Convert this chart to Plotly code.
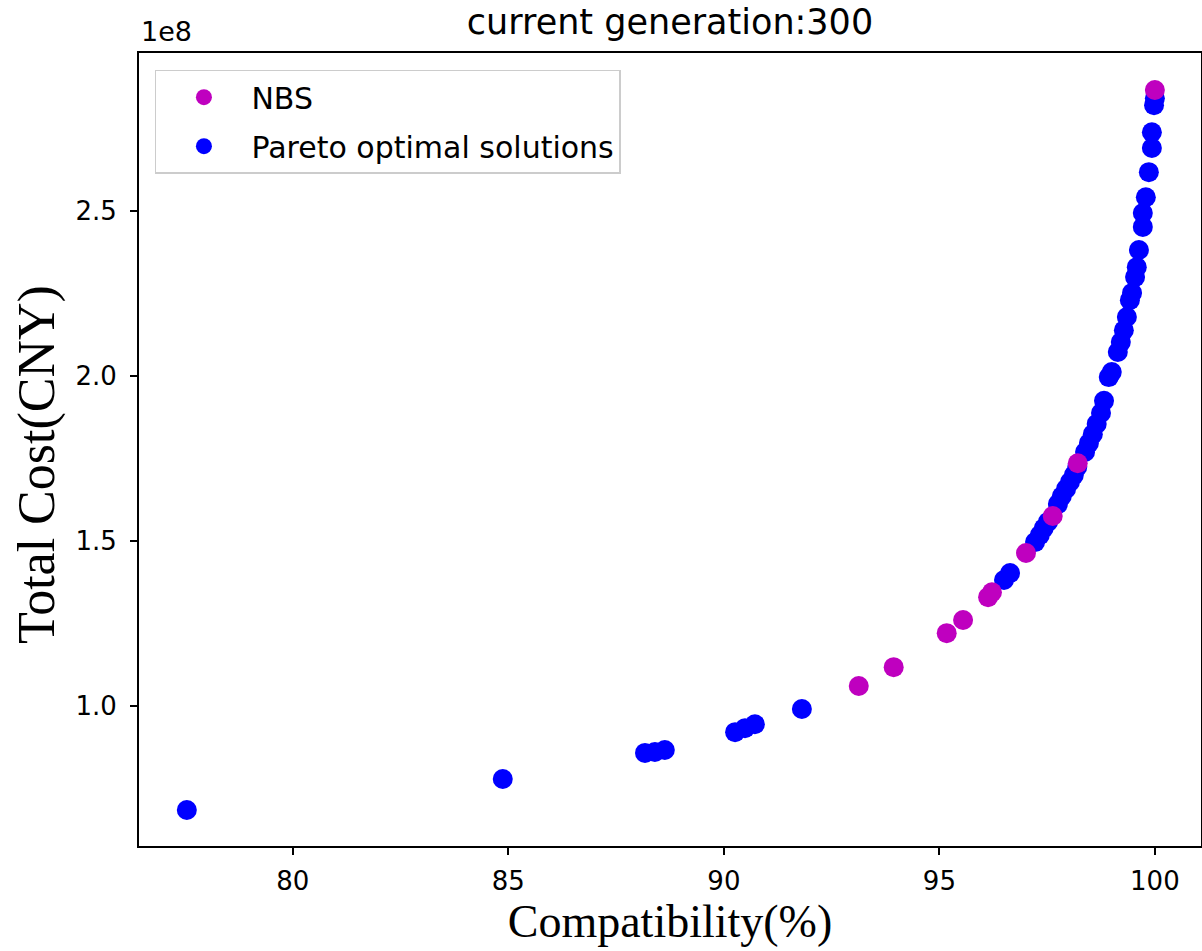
import plotly.graph_objects as go

# Pareto optimal solutions (Compatibility %, Total Cost CNY)
pareto_x = [77.54, 84.87, 88.17, 88.40, 88.63, 90.26, 90.49, 90.72, 91.81,
            96.50, 96.64, 97.22, 97.33, 97.42, 97.52, 97.75, 97.84, 97.94,
            98.03, 98.12, 98.20, 98.38, 98.47, 98.56, 98.65, 98.75, 98.82,
            98.93, 99.00, 99.14, 99.21, 99.28, 99.35, 99.42, 99.47, 99.54,
            99.58, 99.63, 99.72, 99.72, 99.79, 99.86, 99.93, 99.93, 99.98,
            100.0]
pareto_y = [0.685e8, 0.779e8, 0.858e8, 0.861e8, 0.867e8, 0.921e8, 0.933e8,
            0.945e8, 0.991e8, 1.382e8, 1.403e8, 1.497e8, 1.518e8, 1.539e8,
            1.558e8, 1.612e8, 1.636e8, 1.658e8, 1.679e8, 1.700e8, 1.725e8,
            1.770e8, 1.797e8, 1.824e8, 1.855e8, 1.888e8, 1.925e8, 1.997e8,
            2.012e8, 2.073e8, 2.103e8, 2.139e8, 2.179e8, 2.230e8, 2.252e8,
            2.300e8, 2.330e8, 2.382e8, 2.452e8, 2.494e8, 2.542e8, 2.618e8,
            2.691e8, 2.739e8, 2.821e8, 2.842e8]

# NBS solutions
nbs_x = [93.13, 93.94, 95.17, 95.55, 96.13, 96.22, 97.01, 97.63, 98.21, 100.0]
nbs_y = [1.061e8, 1.118e8, 1.221e8, 1.261e8, 1.330e8, 1.345e8, 1.464e8,
         1.576e8, 1.736e8, 2.867e8]

x_ticks = [80, 85, 90, 95, 100]
y_ticks = [1.0e8, 1.5e8, 2.0e8, 2.5e8]
y_tick_labels = ["1.0", "1.5", "2.0", "2.5"]

sans = "DejaVu Sans"
serif = "Liberation Serif"

fig = go.Figure()
fig.add_trace(go.Scatter(
    x=pareto_x, y=pareto_y, mode="markers", name="Pareto optimal solutions",
    marker=dict(color="#0000FF", size=20, line=dict(width=0)),
    legendrank=2, legendgroup="pareto",
))
fig.add_trace(go.Scatter(
    x=nbs_x, y=nbs_y, mode="markers", name="NBS",
    marker=dict(color="#BF00BF", size=20, line=dict(width=0)),
    legendrank=1, legendgroup="nbs",
))

fig.update_layout(
    width=1202, height=951,
    paper_bgcolor="white", plot_bgcolor="white",
    margin=dict(l=139, r=1, t=53, b=105),
    title=dict(text="current generation:300", x=0.5, xref="paper",
               y=1 - 22 / 951, yref="container", yanchor="middle",
               xanchor="center", font=dict(family=sans, size=35, color="black")),
    showlegend=True,
    legend=dict(x=0.015, y=0.979, xanchor="left", yanchor="top",
                bgcolor="white", bordercolor="#cccccc", borderwidth=1.5,
                traceorder="grouped", tracegroupgap=7, itemwidth=85,
                font=dict(family=sans, size=30, color="black")),
    xaxis=dict(range=[76.43, 101.07], tickvals=x_ticks,
               ticks="outside", ticklen=7, tickwidth=1.5, tickcolor="black",
               showline=True, linecolor="black", linewidth=2, mirror=True,
               showgrid=False, zeroline=False, automargin=False,
               ticklabelstandoff=4,
               tickfont=dict(family=sans, size=26, color="black"),
               title=dict(text="Compatibility(%)", standoff=2,
                          font=dict(family=serif, size=46, color="black"))),
    yaxis=dict(range=[0.576e8, 2.979e8], tickvals=y_ticks, ticktext=y_tick_labels,
               ticks="outside", ticklen=7, tickwidth=1.5, tickcolor="black",
               showline=True, linecolor="black", linewidth=2, mirror=True,
               showgrid=False, zeroline=False, automargin=False,
               ticklabelstandoff=8,
               tickfont=dict(family=sans, size=26, color="black")),
    annotations=[
        dict(text="1e8", x=0, xref="paper", y=1, yref="paper",
             xanchor="left", yanchor="bottom", showarrow=False,
             yshift=4, font=dict(family=sans, size=27, color="black")),
        dict(text="Total Cost(CNY)", textangle=-90, x=37 / 1202, xref="paper",
             y=1 - 465 / 951, yref="paper", xanchor="center", yanchor="middle",
             showarrow=False, font=dict(family=serif, size=52, color="black")),
    ],
)
# annotation y above uses paper coords relative to plot area; convert properly
plot_h = 951 - 53 - 105
plot_w = 1202 - 139 - 1
fig.layout.annotations[1].x = (37 - 139) / plot_w
fig.layout.annotations[1].y = (951 - 105 - 465) / plot_h

fig.write_html(
    "out.html",
    config={"displayModeBar": False},
    post_script="document.body.style.margin='0';document.body.style.overflow='hidden';",
)
